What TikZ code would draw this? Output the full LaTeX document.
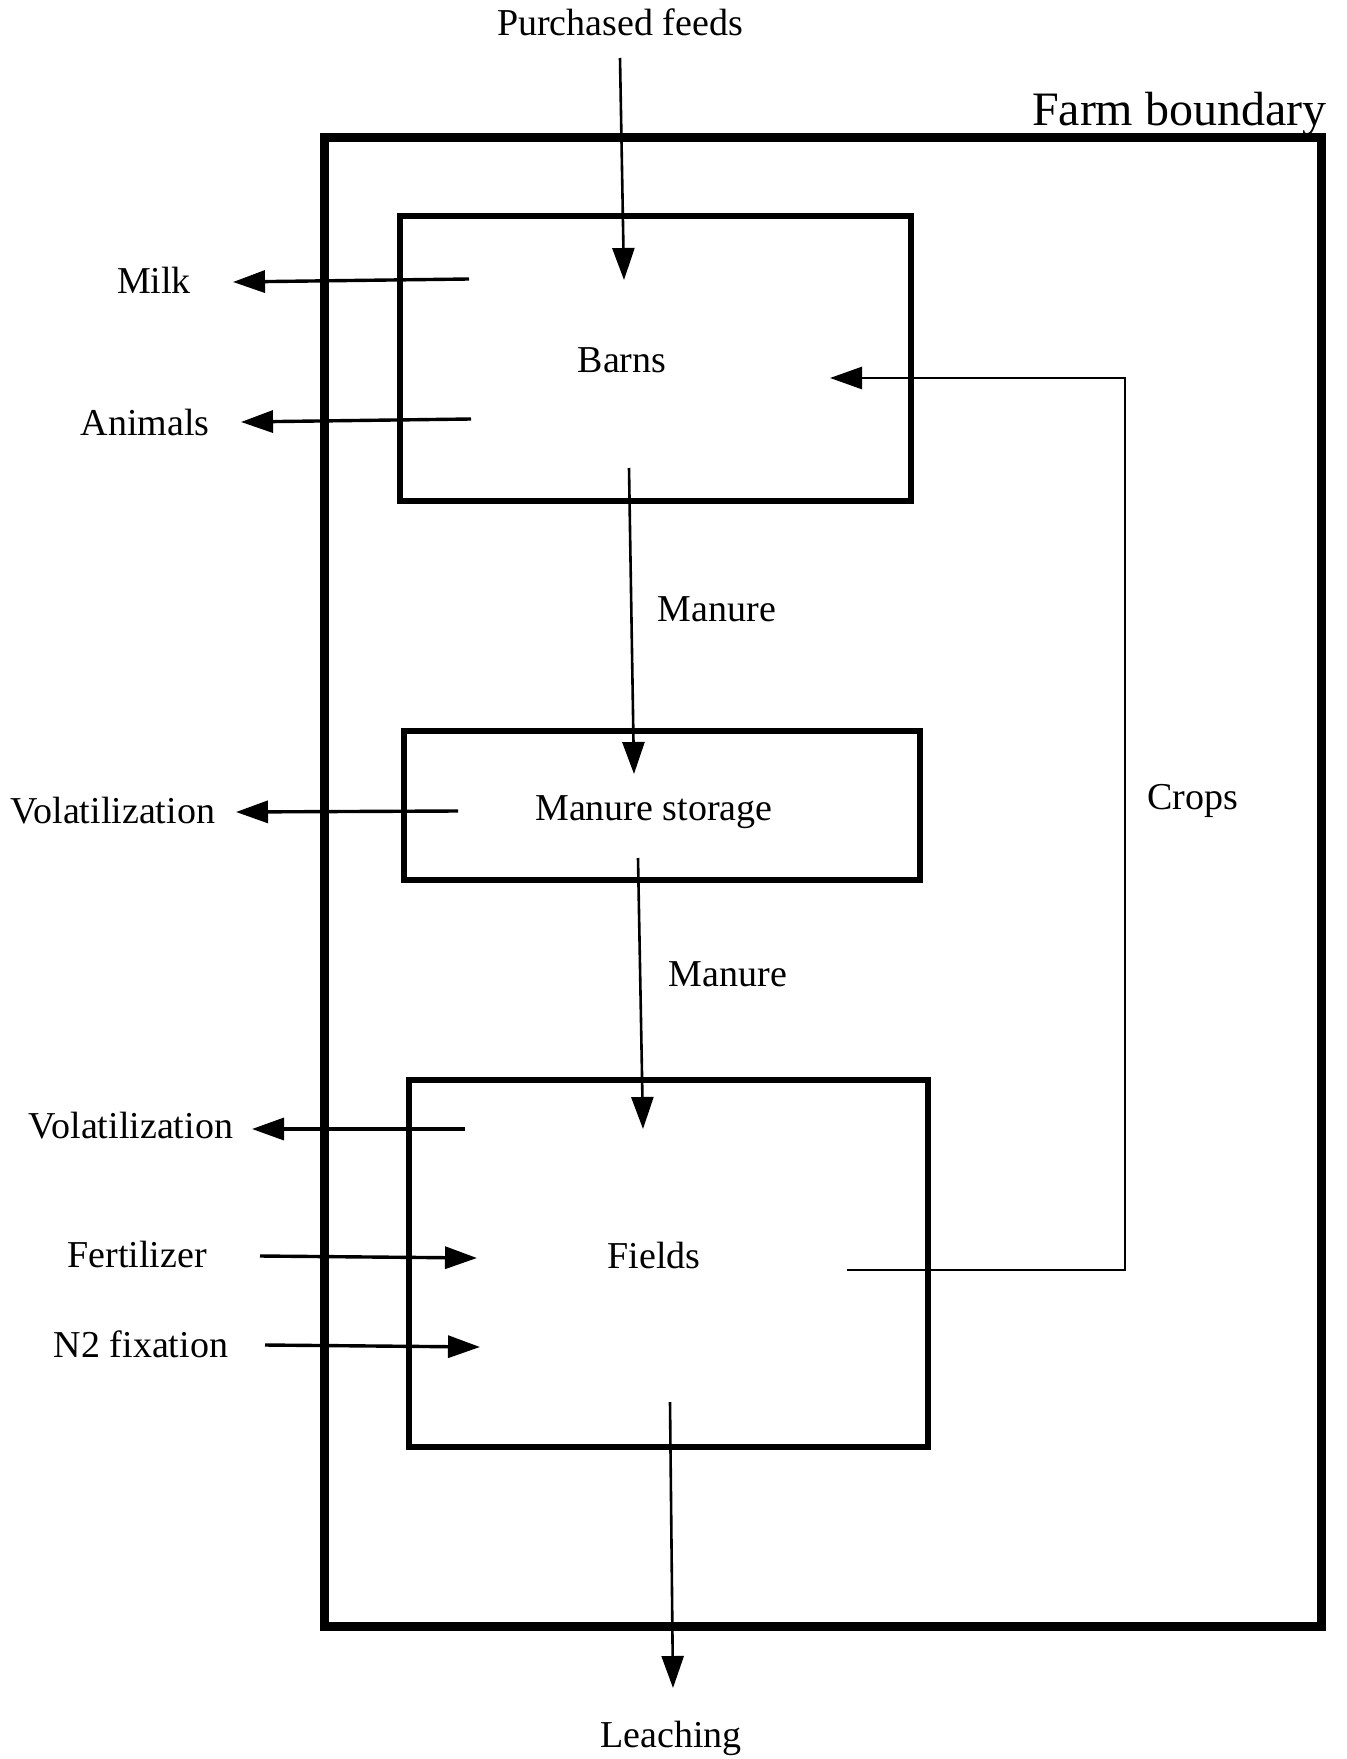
\documentclass[tikz,border=0pt]{standalone}
\usepackage{fontspec}
\setmainfont{Liberation Serif}
\usetikzlibrary{arrows.meta, positioning}

\begin{document}
\begin{tikzpicture}[x=0.5pt, y=-0.5pt]
	\tikzset {>={Triangle[length=16pt, width=11pt]}, box/.style={draw, rectangle, line width=3pt, inner sep=0pt}, flow/.style={->, line width=1.3pt}, side/.style={->, line width=1.7pt}, lbl/.style={inner sep=0pt, font=\fontsize{19}{22}\selectfont} }
	\useasboundingbox (0,0) rectangle (1347,1759);

	% farm boundary
	\node[box, line width=4.5pt, minimum width=498.5pt, minimum height=744pt] (farm) at (822.5,882) {};
	\node[lbl, font=\fontsize{24}{28}\selectfont, anchor=east] (farmlbl) at (1327,114) {Farm boundary};

	% boxes
	\node[box, minimum width=255.5pt, minimum height=142.5pt] (barns) at (655.5,358.5) {};
	\node[lbl] (barnslbl) at (622,360) {Barns};
	\node[box, minimum width=258pt, minimum height=74.5pt] (storage) at (662,805.5) {};
	\node[lbl] (storagelbl) at (654,812) {Manure storage};
	\node[box, minimum width=259.5pt, minimum height=183.5pt] (fields) at (668.5,1263.5) {};
	\node[lbl] (fieldslbl) at (654,1255) {Fields};

	% outside labels
	\node[lbl] (feeds) at (620,22) {Purchased feeds};
	\node[lbl] (milk) at (154,280) {Milk};
	\node[lbl] (animals) at (145,423) {Animals};
	\node[lbl] (vol1) at (113,811) {Volatilization};
	\node[lbl] (vol2) at (131,1126) {Volatilization};
	\node[lbl] (fert) at (137,1254) {Fertilizer};
	\node[lbl] (fix) at (141,1344) {N2 fixation};
	\node[lbl] (leach) at (671,1738) {Leaching};
	\node[lbl] (manure1) at (717,609) {Manure};
	\node[lbl] (manure2) at (728,974) {Manure};
	\node[lbl] (crops) at (1193,801) {Crops};

	% arrow ends
	\coordinate (feedsout) at (620,58);
	\coordinate (feedsin) at (624,280);
	\coordinate (milkout) at (469,279);
	\coordinate (milkin) at (233,282);
	\coordinate (animout) at (471,419);
	\coordinate (animin) at (241,422);
	\coordinate (man1out) at (629,468);
	\coordinate (man1in) at (634,774);
	\coordinate (vol1out) at (458,811);
	\coordinate (vol1in) at (236,812);
	\coordinate (man2out) at (638,858);
	\coordinate (man2in) at (643,1129);
	\coordinate (vol2out) at (465,1129);
	\coordinate (vol2in) at (252,1129);
	\coordinate (fertout) at (260,1256);
	\coordinate (fertin) at (477,1258);
	\coordinate (fixout) at (265,1345);
	\coordinate (fixin) at (480,1347);
	\coordinate (leachout) at (670,1402);
	\coordinate (leachin) at (673,1688);
	\coordinate (cropsout) at (847,1270);
	\coordinate (cropsup) at (1125,378);
	\coordinate (cropsin) at (830,378);

	\draw[flow] (feedsout) -- (feedsin);
	\draw[side] (milkout) -- (milkin);
	\draw[side] (animout) -- (animin);
	\draw[flow] (man1out) -- (man1in);
	\draw[side] (vol1out) -- (vol1in);
	\draw[flow] (man2out) -- (man2in);
	\draw[side] (vol2out) -- (vol2in);
	\draw[side] (fertout) -- (fertin);
	\draw[side] (fixout) -- (fixin);
	\draw[flow] (leachout) -- (leachin);
	\draw[flow] (cropsout) -| (cropsup) -- (cropsin);
\end{tikzpicture}
\end{document}
